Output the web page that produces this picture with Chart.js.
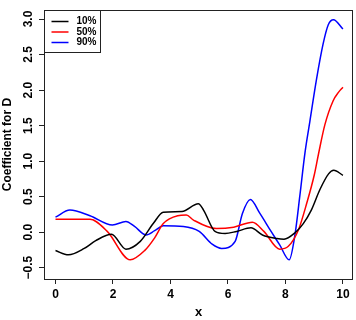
<!DOCTYPE html>
<html>
<head>
<meta charset="utf-8">
<script src="https://cdn.jsdelivr.net/npm/chart.js@4/dist/chart.umd.min.js"></script>
<style>
  body { margin: 0; background: #fff; }
  #wrap { width: 356px; height: 320px; }
</style>
</head>
<body>
<div id="wrap"><canvas id="myChart"></canvas></div>
<script>
// series labels
const labels = ["10%", "50%", "90%"];

// 10% curve (black)
const x10 = [0, 0.45, 1.0, 1.4, 1.95, 2.45, 2.95, 3.4, 3.75, 4.4, 4.97, 5.15, 5.55, 5.9, 6.3, 6.8, 7.2, 7.7, 7.95, 8.33, 8.62, 8.9, 9.2, 9.5, 9.68, 10];
const y10 = [-0.26, -0.32, -0.23, -0.12, -0.03, -0.24, -0.13, 0.12, 0.28, 0.29, 0.40, 0.31, 0.01, -0.02, 0.01, 0.06, -0.04, -0.09, -0.10, -0.01, 0.12, 0.31, 0.60, 0.82, 0.87, 0.80];

// 50% curve (red)
const x50 = [0, 0.5, 1.2, 1.8, 2.6, 3.1, 3.45, 3.75, 4.25, 4.55, 4.8, 5.6, 6.2, 6.85, 7.25, 7.8, 8.1, 8.45, 8.75, 9.0, 9.15, 9.37, 9.66, 9.85, 10];
const y50 = [0.18, 0.18, 0.18, 0.01, -0.39, -0.26, -0.08, 0.12, 0.23, 0.24, 0.17, 0.05, 0.07, 0.14, 0.01, -0.24, -0.20, 0.03, 0.42, 0.80, 1.10, 1.51, 1.85, 1.97, 2.04];

// 90% curve (blue)
const x90 = [0, 0.5, 1.2, 1.98, 2.45, 2.75, 3.15, 3.45, 3.75, 4.45, 5.0, 5.45, 5.78, 6.25, 6.5, 6.78, 7.1, 7.5, 7.8, 8.13, 8.33, 8.5, 8.68, 8.85, 9.08, 9.31, 9.49, 9.67, 10];
const y90 = [0.21, 0.31, 0.23, 0.10, 0.15, 0.08, -0.04, 0.02, 0.09, 0.08, 0.01, -0.17, -0.23, -0.13, 0.26, 0.46, 0.27, 0.01, -0.18, -0.39, -0.04, 0.51, 1.12, 1.56, 2.15, 2.65, 2.92, 2.99, 2.86];

// tick labels
const xTicks = [0, 2, 4, 6, 8, 10];
const yTicks = [-0.5, 0, 0.5, 1, 1.5, 2, 2.5, 3];
const yTickLabels = ["\u22120.5", "0.0", "0.5", "1.0", "1.5", "2.0", "2.5", "3.0"];

const FONT = "'Liberation Sans', Arial, sans-serif";

let toPoints = (xs, ys) => xs.map((x, i) => ({ x: x, y: ys[i] }));

// box around plot, rotated y labels, legend in the corner
const rStyle = {
  id: "rStyle",
  afterDraw(chart) {
    const ctx = chart.ctx;
    const a = chart.chartArea;
    ctx.save();
    ctx.strokeStyle = "#222";
    ctx.lineWidth = 1;
    ctx.strokeRect(Math.round(a.left) + 0.5, Math.round(a.top) + 0.5,
      Math.round(a.right - a.left) - 1, Math.round(a.bottom - a.top));

    // y tick labels, parallel to the axis
    const ys = chart.scales.y;
    ctx.fillStyle = "#000";
    ctx.font = "bold 12px " + FONT;
    ctx.textAlign = "center";
    ctx.textBaseline = "middle";
    yTicks.forEach((v, i) => {
      ctx.save();
      ctx.translate(29, ys.getPixelForValue(v));
      ctx.rotate(-Math.PI / 2);
      ctx.fillText(yTickLabels[i], 0, 0);
      ctx.restore();
    });

    // legend
    const lx = Math.round(a.left) + 0.5, ly = Math.round(a.top) + 0.5;
    ctx.strokeStyle = "#222";
    ctx.strokeRect(lx, ly, 56, 42);
    ctx.font = "bold 10px " + FONT;
    ctx.textAlign = "left";
    chart.data.datasets.forEach((ds, i) => {
      const yy = ly + 11 + i * 10.5;
      ctx.strokeStyle = ds.borderColor;
      ctx.lineWidth = 1.5;
      ctx.beginPath();
      ctx.moveTo(lx + 7, yy);
      ctx.lineTo(lx + 24, yy);
      ctx.stroke();
      ctx.fillStyle = "#000";
      ctx.fillText(ds.label, lx + 32, yy);
    });
    ctx.restore();
  },
};

let ctx = document.getElementById("myChart").getContext("2d");
let myChart = new Chart(ctx, {
  type: "line",
  data: {
    datasets: [
      { label: labels[0], data: toPoints(x10, y10), borderColor: "#000000" },
      { label: labels[1], data: toPoints(x50, y50), borderColor: "#ff0000" },
      { label: labels[2], data: toPoints(x90, y90), borderColor: "#0000ff" },
    ],
  },
  options: {
    responsive: true,
    maintainAspectRatio: false,
    animation: false,
    layout: { padding: { top: 2, right: 3, left: 0, bottom: 0 } },
    elements: {
      point: { radius: 0 },
      line: { borderWidth: 1.5, cubicInterpolationMode: "monotone", fill: false },
    },
    plugins: {
      legend: { display: false },
      tooltip: { enabled: false },
    },
    scales: {
      x: {
        type: "linear",
        min: -0.4,
        max: 10.35,
        afterBuildTicks: (s) => { s.ticks = xTicks.map((v) => ({ value: v })); },
        afterFit: (s) => { s.height = 41; },
        grid: { drawOnChartArea: false, drawTicks: true, tickLength: 5, color: "#222" },
        border: { display: false },
        ticks: {
          color: "#000",
          font: { family: FONT, size: 12, weight: "bold" },
          padding: 3,
          maxRotation: 0,
          callback: (v) => String(v),
        },
        title: {
          display: true,
          text: "x",
          color: "#000",
          font: { family: FONT, size: 13, weight: "bold" },
          padding: 0,
        },
      },
      y: {
        type: "linear",
        min: -0.66,
        max: 3.124,
        afterBuildTicks: (s) => { s.ticks = yTicks.map((v) => ({ value: v })); },
        afterFit: (s) => { s.width = 44; },
        grid: { drawOnChartArea: false, drawTicks: true, tickLength: 5, color: "#222" },
        border: { display: false },
        ticks: { color: "rgba(0,0,0,0)", font: { family: FONT, size: 12, weight: "bold" } },
        title: {
          display: true,
          text: "Coefficient for D",
          color: "#000",
          font: { family: FONT, size: 12, weight: "bold" },
          padding: 0,
        },
      },
    },
  },
  plugins: [rStyle],
});
</script>
</body>
</html>
